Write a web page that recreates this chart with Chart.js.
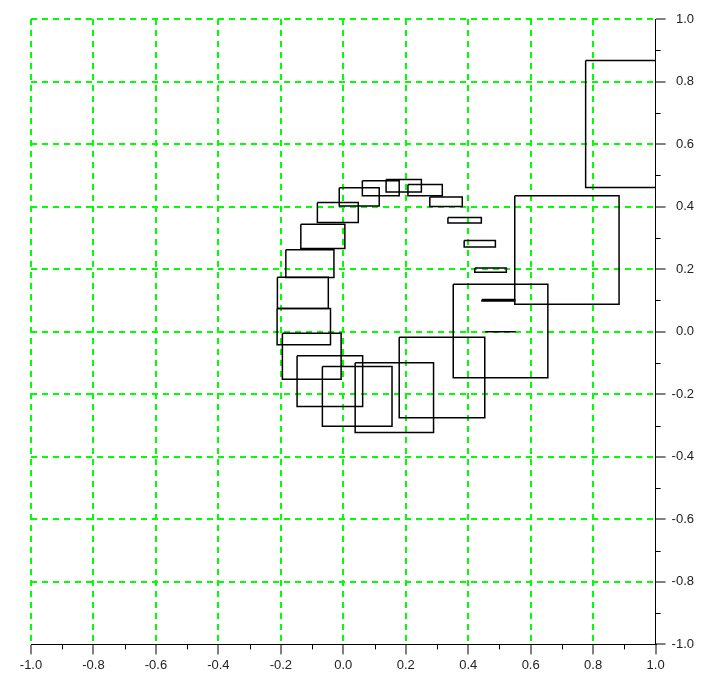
<!DOCTYPE html>
<html>
<head>
<meta charset="utf-8">
<script src="https://cdn.jsdelivr.net/npm/chart.js@4/dist/chart.umd.min.js"></script>
<style>
	html, body { margin: 0; padding: 0; background: #fff; }
	#wrap { width: 704px; height: 678px; }
</style>
</head>
<body>
<div id="wrap"><canvas id="rectChart"></canvas></div>
<script>
// Rectangles: upper-left corner (x, y), width and height, in data units
const rectX = [0.455, 0.444, 0.421, 0.387, 0.335, 0.277, 0.207, 0.137, 0.061, -0.013,
	-0.083, -0.136, -0.184, -0.211, -0.212, -0.195, -0.148, -0.067, 0.038, 0.179,
	0.352, 0.549, 0.776];
const rectY = [0.0, 0.103, 0.204, 0.292, 0.365, 0.431, 0.471, 0.487, 0.483, 0.460,
	0.413, 0.344, 0.262, 0.174, 0.074, -0.005, -0.077, -0.111, -0.099, -0.018,
	0.152, 0.435, 0.867];
const rectW = [0.097, 0.105, 0.101, 0.100, 0.107, 0.104, 0.110, 0.113, 0.118, 0.128,
	0.131, 0.141, 0.154, 0.163, 0.171, 0.188, 0.210, 0.223, 0.251, 0.274,
	0.303, 0.334, 0.370];
const rectH = [0.0, 0.005, 0.014, 0.021, 0.017, 0.031, 0.036, 0.040, 0.048, 0.058,
	0.064, 0.078, 0.089, 0.100, 0.116, 0.147, 0.162, 0.191, 0.223, 0.257,
	0.299, 0.347, 0.406];

// Axis ticks (same on both axes)
const majorTicks = [-1.0, -0.8, -0.6, -0.4, -0.2, 0.0, 0.2, 0.4, 0.6, 0.8, 1.0];
const minorTicks = [-0.9, -0.7, -0.5, -0.3, -0.1, 0.1, 0.3, 0.5, 0.7, 0.9];

document.addEventListener("DOMContentLoaded", function () {
	const MAJOR_LEN = 10;
	const MINOR_LEN = 5;
	const gridGreen = "#00ff00";
	const labelFont = { family: "'Liberation Sans', Arial, sans-serif", size: 13 };

	// --- Build one closed outline per rectangle ---
	const datasets = rectX.map(function (x0, i) {
		const x1 = x0 + rectW[i];
		const y0 = rectY[i];
		const y1 = y0 - rectH[i];
		return {
			data: [
				{ x: x0, y: y0 },
				{ x: x1, y: y0 },
				{ x: x1, y: y1 },
				{ x: x0, y: y1 },
				{ x: x0, y: y0 },
			],
			showLine: true,
			borderColor: "#000",
			borderWidth: 1.5,
			pointRadius: 0,
			pointHoverRadius: 0,
			fill: false,
			tension: 0,
		};
	});

	// --- Short tick marks between the labelled ones ---
	const minorTicksPlugin = {
		id: "minorTicks",
		afterDraw(chart) {
			const { ctx, scales } = chart;
			const xs = scales.x;
			const ys = scales.y;
			ctx.save();
			ctx.strokeStyle = "#000";
			ctx.lineWidth = 1;
			ctx.beginPath();
			minorTicks.forEach(function (v) {
				const px = Math.round(xs.getPixelForValue(v)) + 0.5;
				ctx.moveTo(px, xs.top);
				ctx.lineTo(px, xs.top + MINOR_LEN);
				const py = Math.round(ys.getPixelForValue(v)) + 0.5;
				ctx.moveTo(ys.left, py);
				ctx.lineTo(ys.left + MINOR_LEN, py);
			});
			ctx.stroke();
			ctx.restore();
		},
	};

	// skipValue: the grid line that sits on the other axis (it would peek out beside it)
	function axisOptions(position, skipValue) {
		return {
			type: "linear",
			position: position,
			min: -1,
			max: 1,
			afterBuildTicks: function (scale) {
				scale.ticks = majorTicks.map((v) => ({ value: v }));
			},
			ticks: {
				autoSkip: false,
				maxRotation: 0,
				padding: 3,
				color: "#222",
				font: labelFont,
				crossAlign: position === "right" ? "far" : "near",
				callback: (value) => Number(value).toFixed(1),
			},
			grid: {
				color: (ctx) =>
					ctx.tick && ctx.tick.value === skipValue ? "rgba(0,0,0,0)" : gridGreen,
				lineWidth: 2,
				drawTicks: true,
				tickLength: MAJOR_LEN,
				tickColor: "#000",
				tickWidth: 1,
				tickBorderDash: [],
			},
			border: {
				display: true,
				color: "#000",
				width: 1,
				dash: [6, 5],
			},
		};
	}

	new Chart(document.getElementById("rectChart"), {
		type: "scatter",
		data: { datasets: datasets },
		options: {
			responsive: true,
			maintainAspectRatio: false,
			animation: false,
			layout: { padding: { left: 31, top: 19, right: 10, bottom: 2 } },
			plugins: {
				legend: { display: false },
				tooltip: { enabled: false },
			},
			scales: {
				x: axisOptions("bottom", 1),
				y: axisOptions("right", -1),
			},
		},
		plugins: [minorTicksPlugin],
	});
});
</script>
</body>
</html>
